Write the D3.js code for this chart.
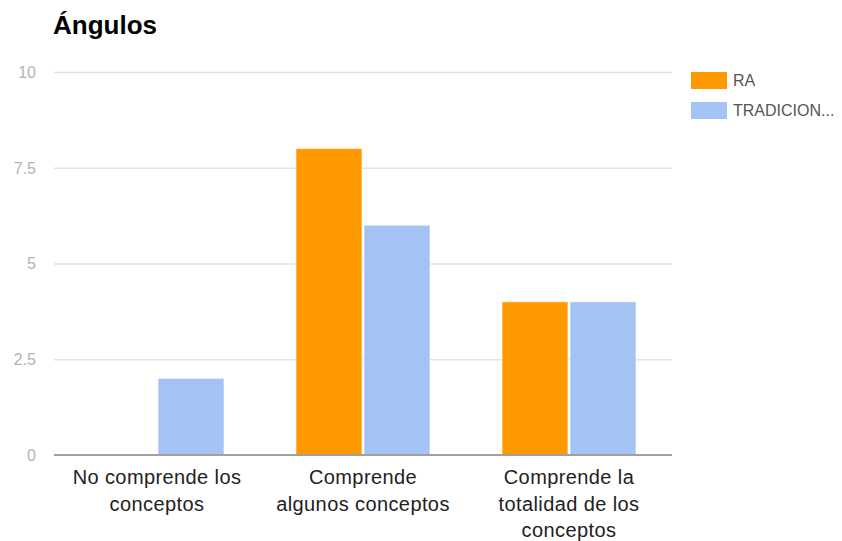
<!DOCTYPE html>
<html><head><meta charset="utf-8">
<script src="https://cdn.jsdelivr.net/npm/d3@7"></script>
<style>body{margin:0;background:#fff}svg{display:block}text{font-family:"Liberation Sans",Arial,sans-serif}</style>
</head><body><svg id="c" width="842" height="541"></svg>
<script>
const title = "Ángulos";
const categories = ["No comprende los conceptos", "Comprende algunos conceptos", "Comprende la totalidad de los conceptos"];
const categoryLines = [["No comprende los", "conceptos"], ["Comprende", "algunos conceptos"], ["Comprende la", "totalidad de los", "conceptos"]];
const seriesNames = ["RA", "TRADICIONAL"];
const legendLabels = ["RA", "TRADICION..."];
const valuesRA = [0, 8, 4];
const valuesTrad = [2, 6, 4];
const yTicks = [0, 2.5, 5, 7.5, 10];
const colors = ["#ff9900", "#a4c2f4"];

(function () {
const svg = d3.select("#c");
const pLeft = 54, pRight = 672, pTop = 72, pBottom = 455;
const y = d3.scaleLinear().domain([0, 10]).range([pBottom, pTop]);
const x = d3.scaleBand().domain(categories).range([pLeft, pRight]).padding(0);
const xi = d3.scaleBand().domain(seriesNames).range([-67, 67]).paddingInner(0.03);

// title
svg.append("text").attr("x", 53).attr("y", 34).attr("font-size", 26).attr("font-weight", "bold").attr("fill", "#000").text(title);

// grid
svg.append("g").selectAll("line").data(yTicks.filter(d => d > 0)).join("line")
  .attr("x1", pLeft).attr("x2", pRight).attr("y1", d => y(d) + 0.5).attr("y2", d => y(d) + 0.5)
  .attr("stroke", "#e2e2e2").attr("stroke-width", 1.5);
svg.append("g").selectAll("text").data(yTicks).join("text")
  .attr("x", 36).attr("y", d => y(d)).attr("dy", "0.36em").attr("text-anchor", "end")
  .attr("font-size", 16).attr("fill", "#b3b3b3").text(d => d);

// bars
const data = [];
categories.forEach((c, i) => {
  data.push({c, s: seriesNames[0], v: valuesRA[i]});
  data.push({c, s: seriesNames[1], v: valuesTrad[i]});
});
svg.append("g").selectAll("rect").data(data.filter(d => d.v > 0)).join("rect")
  .attr("x", d => x(d.c) + x.bandwidth() / 2 + xi(d.s))
  .attr("width", xi.bandwidth())
  .attr("y", d => y(d.v))
  .attr("height", d => y(0) - y(d.v))
  .attr("fill", d => colors[seriesNames.indexOf(d.s)])
  .attr("stroke", "rgba(255,255,255,0.6)").attr("stroke-width", 1);

// baseline
svg.append("line").attr("x1", pLeft).attr("x2", pRight).attr("y1", y(0)).attr("y2", y(0))
  .attr("stroke", "#a0a0a0").attr("stroke-width", 2);

// x labels
const xl = svg.append("g").selectAll("text").data(categories).join("text")
  .attr("text-anchor", "middle").attr("font-size", 20).attr("fill", "#222").attr("letter-spacing", 0.4);
xl.each(function (c, i) {
  const t = d3.select(this);
  categoryLines[i].forEach((ln, j) => {
    t.append("tspan").attr("x", x(c) + x.bandwidth() / 2).attr("y", 484 + j * 26.5).text(ln);
  });
});

// legend
const lg = svg.append("g").selectAll("g").data(seriesNames).join("g")
  .attr("transform", (d, i) => `translate(691,${72 + i * 30})`);
lg.append("rect").attr("width", 36).attr("height", 17).attr("fill", (d, i) => colors[i]);
lg.append("text").attr("x", 42).attr("y", 8.5).attr("dy", "0.36em").attr("font-size", 16).attr("fill", "#555")
  .text((d, i) => legendLabels[i]);
})();
</script></body></html>
